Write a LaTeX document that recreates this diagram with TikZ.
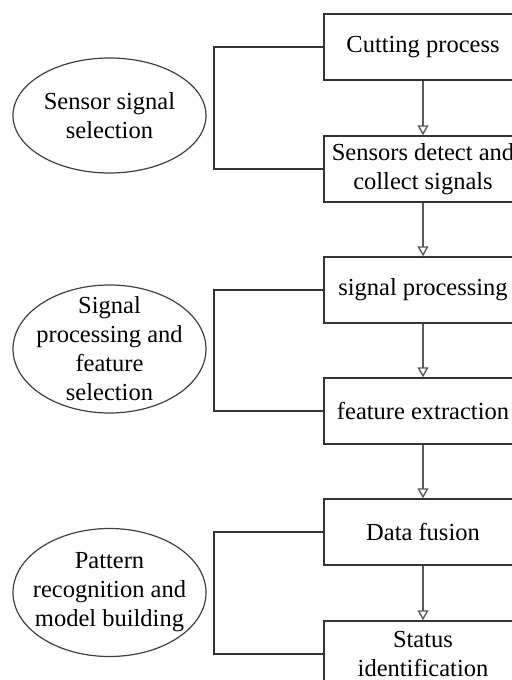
\documentclass[tikz,border=0pt]{standalone}
\usepackage{fontspec}
\setmainfont{Liberation Serif}
\usetikzlibrary{arrows.meta,shapes.geometric}
\begin{document}
\begin{tikzpicture}[x=0.5pt,y=-0.5pt,
  procbox/.style={draw=black!80,line width=0.7pt,minimum width=99pt,minimum height=33pt,inner sep=0pt,align=center,
    font=\fontsize{12.25pt}{14.5pt}\selectfont},
  ellbox/.style={draw=black!75,line width=0.6pt,ellipse,inner sep=0pt,minimum width=96.5pt},
  elltext/.style={align=center,inner sep=0pt,font=\fontsize{12.25pt}{14.5pt}\selectfont},
  flow/.style={draw=black!65,line width=0.7pt,-{Triangle[open,width=5.5pt,length=5pt]}},
  brack/.style={draw=black!80,line width=0.7pt}]
\useasboundingbox (0,0) rectangle (512,680);
% process boxes
\node[procbox] (b1) at (423,47) {Cutting process};
\node[procbox] (b2) at (423,169) {Sensors detect and\\collect signals};
\node[procbox] (b3) at (423,290) {signal processing};
\node[procbox] (b4) at (423,411) {feature extraction};
\node[procbox] (b5) at (423,532) {Data fusion};
\node[procbox] (b6) at (423,654) {Status\\identification};
% flow arrows
\draw[flow] (b1.south) -- (b2.north);
\draw[flow] (b2.south) -- (b3.north);
\draw[flow] (b3.south) -- (b4.north);
\draw[flow] (b4.south) -- (b5.north);
\draw[flow] (b5.south) -- (b6.north);
% brackets
\coordinate (k1) at (214,0);
\draw[brack] (b1.west) -- (b1.west -| k1) -- (b2.west -| k1) -- (b2.west);
\draw[brack] (b3.west) -- (b3.west -| k1) -- (b4.west -| k1) -- (b4.west);
\draw[brack] (b5.west) -- (b5.west -| k1) -- (b6.west -| k1) -- (b6.west);
% ellipses
\node[ellbox,minimum height=57.5pt] (e1) at (109.5,115.5) {};
\node[elltext] (t1) at (e1.center) {Sensor signal\\selection};
\node[ellbox,minimum height=64pt] (e2) at (109.5,349) {};
\node[elltext] (t2) at (e2.center) {Signal\\processing and\\feature\\selection};
\node[ellbox,minimum height=64pt] (e3) at (109.5,592.5) {};
\node[elltext] (t3) at (e3.center) {Pattern\\recognition and\\model building};
\end{tikzpicture}
\end{document}
